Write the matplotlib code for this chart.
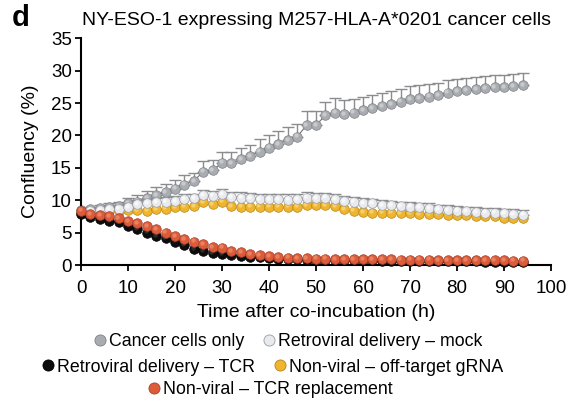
import matplotlib
matplotlib.use("Agg")
import matplotlib.pyplot as plt
from matplotlib.lines import Line2D
import matplotlib.transforms as mtransforms
import numpy as np

plt.rcParams['font.family'] = ['Liberation Sans', 'DejaVu Sans']

hours = list(range(0, 96, 2))

cancer_only = [8.5, 8.6, 8.8, 8.9, 9.1, 9.5, 9.8, 10.3, 10.8, 11.2, 11.8, 12.4, 13.0, 14.4, 14.6, 15.8,
               15.7, 16.3, 16.8, 17.5, 18.1, 18.7, 19.3, 19.8, 21.6, 21.6, 23.1, 23.5, 23.3, 23.5, 23.9, 24.2,
               24.5, 24.8, 25.2, 25.6, 25.8, 26.0, 26.2, 26.6, 26.8, 27.0, 27.1, 27.3, 27.5, 27.5, 27.6, 27.8]
cancer_only_err = [0.3, 0.4, 0.5, 0.6, 0.7, 0.9, 1.0, 1.1, 1.2, 1.3, 1.4, 1.5, 1.2, 1.6, 1.6, 1.7,
                   1.7, 1.8, 1.8, 1.9, 1.9, 2.0, 2.0, 2.0, 2.1, 2.1, 2.1, 2.2, 2.1, 2.1, 2.1, 2.0,
                   2.0, 2.0, 2.0, 2.0, 2.0, 1.9, 1.9, 1.9, 1.9, 1.9, 1.9, 1.9, 1.9, 1.9, 1.9, 1.9]

retro_mock = [8.3, 8.4, 8.5, 8.6, 8.7, 8.9, 9.4, 9.6, 9.7, 9.8, 9.9, 10.2, 10.3, 10.8, 10.7, 10.9,
              10.5, 10.4, 10.3, 10.2, 10.2, 10.2, 10.1, 10.2, 10.4, 10.3, 10.4, 10.2, 9.9, 9.8, 9.6, 9.5,
              9.3, 9.2, 9.1, 9.0, 8.9, 8.8, 8.6, 8.5, 8.4, 8.3, 8.2, 8.1, 8.1, 8.0, 7.9, 7.8]
retro_mock_err = [0.3, 0.3, 0.4, 0.4, 0.5, 0.5, 0.6, 0.6, 0.6, 0.7, 0.7, 0.7, 0.7, 0.8, 0.8, 0.8,
                  0.8, 0.8, 0.8, 0.8, 0.8, 0.8, 0.8, 0.8, 0.8, 0.8, 0.7, 0.7, 0.7, 0.7, 0.7, 0.7,
                  0.7, 0.7, 0.7, 0.7, 0.7, 0.7, 0.7, 0.7, 0.7, 0.7, 0.7, 0.7, 0.7, 0.7, 0.7, 0.7]

retro_tcr = [7.9, 7.4, 7.1, 6.8, 6.6, 6.1, 5.5, 5.0, 4.5, 4.1, 3.6, 3.1, 2.5, 2.2, 1.85, 1.7,
             1.55, 1.45, 1.3, 1.2, 1.1, 1.0, 0.95, 0.9, 0.85, 0.85, 0.8, 0.8, 0.8, 0.75, 0.75, 0.75,
             0.7, 0.7, 0.7, 0.7, 0.65, 0.65, 0.65, 0.6, 0.6, 0.6, 0.6, 0.55, 0.55, 0.55, 0.5, 0.5]

nonviral_offtarget = [8.0, 8.1, 8.2, 8.3, 8.4, 8.5, 8.5, 8.4, 8.6, 8.7, 8.9, 9.0, 9.1, 9.7, 9.4, 9.8,
                      9.1, 9.0, 9.0, 9.0, 9.0, 9.0, 9.0, 9.0, 9.3, 9.2, 9.2, 9.1, 8.6, 8.4, 8.2, 8.1,
                      8.1, 8.1, 8.0, 8.0, 7.9, 7.9, 7.9, 7.8, 7.8, 7.7, 7.6, 7.6, 7.5, 7.3, 7.2, 7.2]

nonviral_tcr = [8.4, 7.9, 7.7, 7.5, 7.2, 6.8, 6.5, 6.0, 5.5, 5.0, 4.5, 4.0, 3.6, 3.2, 2.8, 2.7,
                2.2, 1.95, 1.7, 1.55, 1.35, 1.25, 1.15, 1.1, 1.05, 1.0, 1.0, 0.95, 0.95, 0.95, 0.9, 0.9,
                0.9, 0.9, 0.85, 0.85, 0.85, 0.85, 0.8, 0.8, 0.8, 0.8, 0.75, 0.75, 0.75, 0.75, 0.7, 0.7]

labels = ["Cancer cells only", "Retroviral delivery \u2013 mock", "Retroviral delivery \u2013 TCR",
          "Non-viral \u2013 off-target gRNA", "Non-viral \u2013 TCR replacement"]
x_ticks = [0, 10, 20, 30, 40, 50, 60, 70, 80, 90, 100]
y_ticks = [0, 5, 10, 15, 20, 25, 30, 35]

# style: (face, edge, highlight)
styles = {
    labels[0]: ("#a9acb0", "#7d8084", "#d6d8db"),
    labels[1]: ("#e9eaee", "#9a9ca2", "#ffffff"),
    labels[2]: ("#0c0c0c", "#000000", "#3a3a3a"),
    labels[3]: ("#efb52e", "#b68418", "#f9dc86"),
    labels[4]: ("#dc5c3a", "#a9402a", "#ef9373"),
}

fig = plt.figure(figsize=(5.85, 3.98), dpi=100)
ax = fig.add_axes([0.1385, 0.334, 0.8035, 0.570])

ms = 6.9
series = [
    (cancer_only, cancer_only_err, labels[0], 2),
    (nonviral_offtarget, None, labels[3], 3),
    (retro_mock, retro_mock_err, labels[1], 4),
    (retro_tcr, None, labels[2], 5),
    (nonviral_tcr, None, labels[4], 6),
]
hl_offset = mtransforms.offset_copy(ax.transData, fig=fig, x=-0.9, y=0.9, units='points')
for vals, err, lab, z in series:
    face, edge, hl = styles[lab]
    if err is not None:
        ax.errorbar(hours, vals, yerr=[np.zeros(len(err)), err], fmt='none',
                    ecolor="#8a8c90", elinewidth=1.0, capsize=4, capthick=1.0, zorder=z - 0.5)
        ax.plot(hours, vals, '-', color="#6f7276", lw=0.8, zorder=z - 0.4)
    ax.plot(hours, vals, 'o', ms=ms, mfc=face, mec=edge, mew=0.5, zorder=z, clip_on=False)
    ax.plot(hours, vals, 'o', ms=ms * 0.45, mfc=hl, mec='none', alpha=0.7, zorder=z + 0.01,
            transform=hl_offset, clip_on=False)

ax.set_xlim(0, 100)
ax.set_ylim(0, 35)
ax.set_xticks(x_ticks)
ax.set_yticks(y_ticks)
ax.spines['top'].set_visible(False)
ax.spines['right'].set_visible(False)
for s in ['left', 'bottom']:
    ax.spines[s].set_linewidth(1.5)
ax.tick_params(axis='both', which='major', labelsize=13.5, width=1.3, length=4, direction='out')
ax.tick_params(axis='x', pad=6.5)
ax.tick_params(axis='y', pad=2.5)
ax.set_xlabel("Time after co-incubation (h)", fontsize=14, labelpad=5.5)
ax.set_ylabel("Confluency (%)", fontsize=14, labelpad=8.5)
ax.set_title("NY-ESO-1 expressing M257-HLA-A*0201 cancer cells", fontsize=14, pad=9.5, x=0.5)

fig.text(0.02, 0.955, "d", fontsize=21, fontweight='bold', ha='left', va='center')

def handle(lab):
    face, edge, hl = styles[lab]
    return Line2D([], [], marker='o', ls='none', ms=8, mfc=face, mec=edge, mew=0.6, label=lab)

rows = [([labels[0], labels[1]], 0.49, 0.1415),
        ([labels[2], labels[3]], 0.463, 0.0775),
        ([labels[4]], 0.46, 0.022)]
for labs, xc, yc in rows:
    leg = fig.legend(handles=[handle(l) for l in labs], ncol=len(labs), loc='center',
                     bbox_to_anchor=(xc, yc), frameon=False, fontsize=12.8,
                     handletextpad=0.0, columnspacing=0.9, handlelength=1.0, borderpad=0.0,
                     borderaxespad=0.0)

fig.savefig("out.png", dpi=100)
